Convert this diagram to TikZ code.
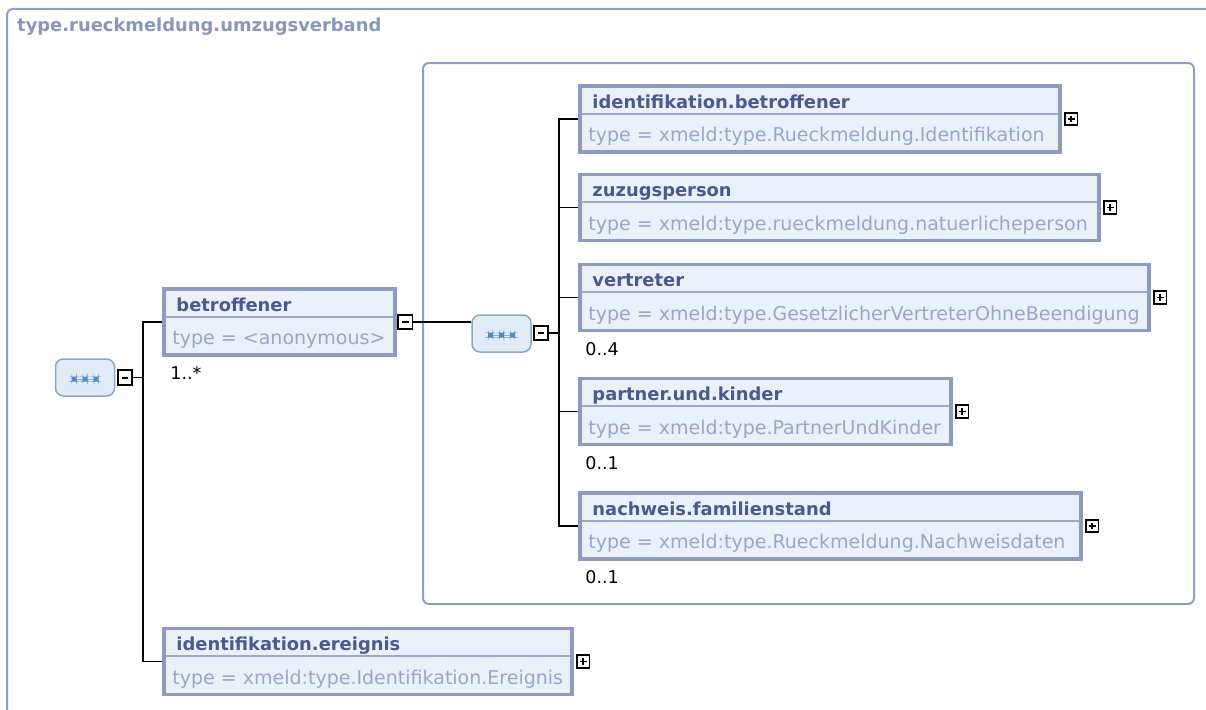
\documentclass[tikz,border=0pt]{standalone}
\usepackage{fontspec}
\setmainfont{DejaVu Sans}
\usepackage{tikz}
\usetikzlibrary{positioning, calc}
\definecolor{frameline}{HTML}{939FC2}
\definecolor{boxline}{HTML}{8D9BC0}
\definecolor{boxfill}{HTML}{EAF1FB}
\definecolor{divline}{HTML}{9CA9CA}
\definecolor{nametext}{HTML}{4A5A8C}
\definecolor{typetext}{HTML}{9AA6C6}
\definecolor{titletext}{HTML}{8A97B8}
\definecolor{seqline}{HTML}{8CA8C8}
\definecolor{seqfill}{HTML}{E2ECF7}
\definecolor{seqdot}{HTML}{4F8AC2}
\definecolor{seqdash}{HTML}{8FB0D2}

\begin{document}
\begin{tikzpicture}[
  x=1pt, y=-1pt,
  frame/.style={draw=frameline, line width=2pt, rounded corners=6pt},
  elem/.style={draw=boxline, fill=boxfill, line width=3.5pt, minimum height=66, inner sep=0pt},
  divider/.style={draw=divline, line width=1.8pt},
  elname/.style={anchor=base west, inner sep=0pt, text=nametext, font=\fontsize{17.9}{20}\selectfont\bfseries},
  eltype/.style={anchor=base west, inner sep=0pt, text=typetext, font=\fontsize{19}{22}\selectfont},
  mult/.style={anchor=base west, inner sep=0pt, font=\fontsize{17.5}{20}\selectfont},
  titletxt/.style={anchor=base west, inner sep=0pt, text=titletext, font=\fontsize{17.9}{20}\selectfont\bfseries},
  toggle/.style={draw=black, fill=white, line width=1.8pt, inner sep=0pt},
  plus/.style={toggle, minimum size=12.5, path picture={
    \draw[line width=1.7pt] ([xshift=3pt]path picture bounding box.west) -- ([xshift=-3pt]path picture bounding box.east);
    \draw[line width=1.7pt] ([yshift=-3pt]path picture bounding box.north) -- ([yshift=3pt]path picture bounding box.south);}},
  minus/.style={toggle, minimum size=14.5, path picture={
    \draw[line width=2pt] ([xshift=4pt]path picture bounding box.west) -- ([xshift=-4pt]path picture bounding box.east);}},
  seqbox/.style={draw=seqline, fill=seqfill, line width=1.5pt, rounded corners=8pt, minimum width=59, minimum height=37, path picture={
    \draw[seqdash, line width=1pt] ([xshift=-11pt, yshift=-1.5pt]path picture bounding box.center) -- ([xshift=11pt, yshift=-1.5pt]path picture bounding box.center);
    \foreach \dx in {-11,0,11}
      \fill[seqdot] ([xshift={(\dx-2.5)*1pt}, yshift=-4pt]path picture bounding box.center) rectangle +(5,-5);}},
  conn/.style={draw=black, line width=1.8pt}
]
\useasboundingbox (0,0) rectangle (1206,709);
\clip (0,0) rectangle (1206,709);
\fill[white] (0,0) rectangle (1206,709);

% outer type frame
\draw[frame] (7,740) |- (1240,9);
\node[titletxt] (title) at (17,32) {type.rueckmeldung.umzugsverband};

% inner sequence group
\node[frame, minimum width=771, minimum height=541, inner sep=0pt] (grp) at (808.5,333.5) {};

% compositors
\node[seqbox] (seqa) at (85,377.5) {};
\node[minus] (seqa-m) at (125,377.5) {};
\node[seqbox] (seqb) at (501.5,333.5) {};
\node[minus] (seqb-m) at (541,333) {};

% betroffener
\node[elem, minimum width=231] (betr) at (279.5,322) {};
\node[elname] (betr-name) at ([shift={(14,24)}]betr.north west) {betroffener};
\node[eltype] (betr-type) at ([shift={(10,57.5)}]betr.north west) {type = <anonymous>};
\draw[divider] ([shift={(3.5,29.5)}]betr.north west) -- ([shift={(-3.5,29.5)}]betr.north east);
\node[minus] (betr-m) at ([xshift=8.5pt]betr.east) {};
\node[mult] (betr-mult) at ([shift={(8,23)}]betr.south west) {1..*};

% identifikation.ereignis
\node[elem, minimum width=408] (ereig) at (368,661.5) {};
\node[elname] (ereig-name) at ([shift={(14,24)}]ereig.north west) {identifikation.ereignis};
\node[eltype] (ereig-type) at ([shift={(10,57.5)}]ereig.north west) {type = xmeld:type.Identifikation.Ereignis};
\draw[divider] ([shift={(3.5,29.5)}]ereig.north west) -- ([shift={(-3.5,29.5)}]ereig.north east);
\node[plus] (ereig-x) at ([xshift=9.5pt]ereig.east) {};

% identifikation.betroffener
\node[elem, minimum width=480] (idbetr) at (820,119) {};
\node[elname] (idbetr-name) at ([shift={(14,24)}]idbetr.north west) {identifikation.betroffener};
\node[eltype] (idbetr-type) at ([shift={(10,57.5)}]idbetr.north west) {type = xmeld:type.Rueckmeldung.Identifikation};
\draw[divider] ([shift={(3.5,29.5)}]idbetr.north west) -- ([shift={(-3.5,29.5)}]idbetr.north east);
\node[plus] (idbetr-x) at ([xshift=9.5pt]idbetr.east) {};

% zuzugsperson
\node[elem, minimum width=519] (zuzug) at (839.5,207.5) {};
\node[elname] (zuzug-name) at ([shift={(14,24)}]zuzug.north west) {zuzugsperson};
\node[eltype] (zuzug-type) at ([shift={(10,57.5)}]zuzug.north west) {type = xmeld:type.rueckmeldung.natuerlicheperson};
\draw[divider] ([shift={(3.5,29.5)}]zuzug.north west) -- ([shift={(-3.5,29.5)}]zuzug.north east);
\node[plus] (zuzug-x) at ([xshift=9.5pt]zuzug.east) {};

% vertreter
\node[elem, minimum width=569] (vertr) at (864.5,297.5) {};
\node[elname] (vertr-name) at ([shift={(14,24)}]vertr.north west) {vertreter};
\node[eltype] (vertr-type) at ([shift={(10,57.5)}]vertr.north west) {type = xmeld:type.GesetzlicherVertreterOhneBeendigung};
\draw[divider] ([shift={(3.5,29.5)}]vertr.north west) -- ([shift={(-3.5,29.5)}]vertr.north east);
\node[plus] (vertr-x) at ([xshift=9.5pt]vertr.east) {};
\node[mult] (vertr-mult) at ([shift={(7,23)}]vertr.south west) {0..4};

% partner.und.kinder
\node[elem, minimum width=371] (partner) at (765.5,411.5) {};
\node[elname] (partner-name) at ([shift={(14,24)}]partner.north west) {partner.und.kinder};
\node[eltype] (partner-type) at ([shift={(10,57.5)}]partner.north west) {type = xmeld:type.PartnerUndKinder};
\draw[divider] ([shift={(3.5,29.5)}]partner.north west) -- ([shift={(-3.5,29.5)}]partner.north east);
\node[plus] (partner-x) at ([xshift=9.5pt]partner.east) {};
\node[mult] (partner-mult) at ([shift={(7,23)}]partner.south west) {0..1};

% nachweis.familienstand
\node[elem, minimum width=501] (nachw) at (830.5,526) {};
\node[elname] (nachw-name) at ([shift={(14,24)}]nachw.north west) {nachweis.familienstand};
\node[eltype] (nachw-type) at ([shift={(10,57.5)}]nachw.north west) {type = xmeld:type.Rueckmeldung.Nachweisdaten};
\draw[divider] ([shift={(3.5,29.5)}]nachw.north west) -- ([shift={(-3.5,29.5)}]nachw.north east);
\node[plus] (nachw-x) at ([xshift=9.5pt]nachw.east) {};
\node[mult] (nachw-mult) at ([shift={(7,23)}]nachw.south west) {0..1};

% connectors
\coordinate (busa) at (143,377.5);
\coordinate (busb) at (559,333);
\draw[conn] (seqa-m.east) -- (busa);
\draw[conn] (betr.west) -| (busa) |- (ereig.west);
\draw[conn] (betr-m.east) -- (betr-m.east -| seqb.west);
\draw[conn] (seqb-m.east) -- (busb);
\draw[conn] (idbetr.west) -| (busb) |- (nachw.west);
\draw[conn] (zuzug.west) -- (zuzug.west -| busb);
\draw[conn] (vertr.west) -- (vertr.west -| busb);
\draw[conn] (partner.west) -- (partner.west -| busb);
\end{tikzpicture}
\end{document}
